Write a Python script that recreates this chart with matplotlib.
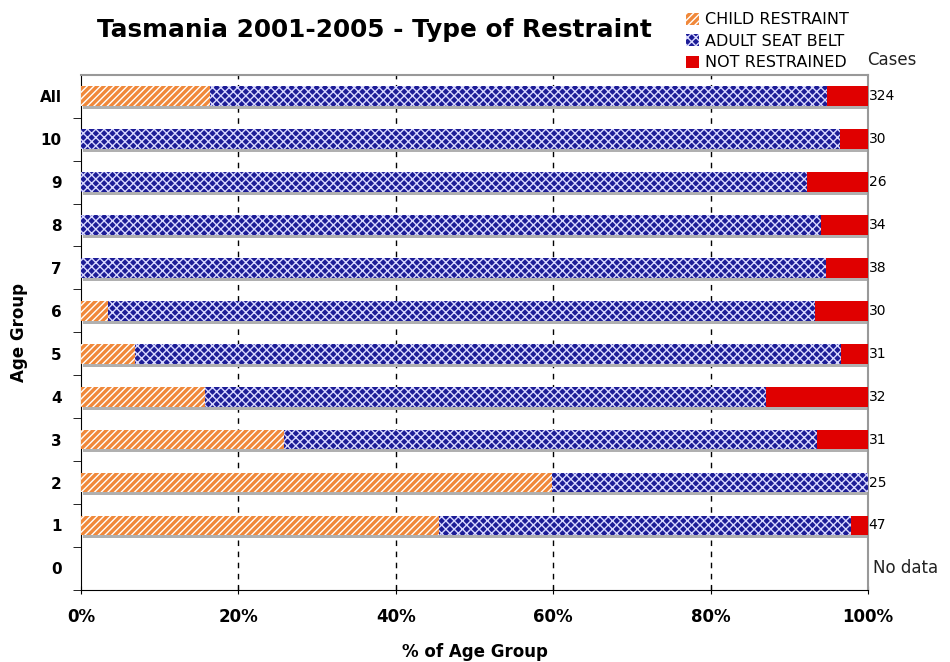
import matplotlib.pyplot as plt
from matplotlib.patches import Patch
import numpy as np

# data (percent of age group)
groups = ["0", "1", "2", "3", "4", "5", "6", "7", "8", "9", "10", "All"]
child = [0, 45.5, 59.8, 25.8, 15.8, 6.8, 3.4, 0, 0, 0, 0, 16.4]
adult = [0, 52.4, 40.2, 67.7, 71.2, 89.8, 89.8, 94.7, 94.0, 92.2, 96.5, 78.4]
notr = [0, 2.1, 0, 6.5, 13.0, 3.4, 6.8, 5.3, 6.0, 7.8, 3.5, 5.2]
cases = ["No data", "47", "25", "31", "32", "31", "30", "38", "34", "26", "30", "324"]

c_child = "#f0883a"
c_adult = "#1c1c96"
c_not = "#e00000"


def main():
    """draw the chart"""
    plt.rcParams["hatch.linewidth"] = 1.0
    fig = plt.figure(figsize=(9.5, 6.62), dpi=100)
    ax = fig.add_axes([0.0853, 0.109, 0.8284, 0.778])

    y = np.arange(len(groups))
    h = 0.46
    child_a = np.array(child)
    adult_a = np.array(adult)
    notr_a = np.array(notr)
    total = child_a + adult_a + notr_a

    # shadow
    ax.barh(y - 0.07, total, height=h, left=0.3, color="#b0b0b0", lw=0, zorder=2)
    ax.barh(y, child_a, height=h, color=c_child, edgecolor="white",
            hatch="/////", lw=0, zorder=3)
    ax.barh(y, adult_a, height=h, left=child_a, color=c_adult,
            edgecolor="#d8d8ff", hatch="xxxx", lw=0, zorder=3)
    ax.barh(y, notr_a, height=h, left=child_a + adult_a, color=c_not,
            lw=0, zorder=3)

    for i, c in enumerate(cases):
        if c == "No data":
            ax.text(100.6, y[i], c, va="center", ha="left", fontsize=12,
                    color="#222222")
        else:
            ax.text(100.1, y[i], c, va="center", ha="left", fontsize=10)

    ax.set_xlim(0, 100)
    ax.set_ylim(-0.5, 11.5)
    ax.set_xticks([0, 20, 40, 60, 80, 100])
    ax.set_xticklabels(["0%", "20%", "40%", "60%", "80%", "100%"],
                       fontsize=12, fontweight="bold")
    ax.set_yticks(y)
    ax.set_yticklabels(groups, fontsize=11, fontweight="bold")
    ax.tick_params(axis="y", length=0, pad=14)
    ax.set_yticks(np.arange(-0.5, 11.5, 1), minor=True)
    ax.tick_params(axis="y", which="minor", length=6, direction="out")
    ax.tick_params(axis="x", length=6, direction="inout", pad=10)
    for xv in [20, 40, 60, 80]:
        ax.axvline(xv, color="black", ls=(0, (4, 4)), lw=1, zorder=1)

    ax.spines["top"].set_color("#999999")
    ax.spines["right"].set_color("#999999")
    ax.spines["right"].set_linewidth(1.5)
    ax.spines["top"].set_linewidth(1.5)

    ax.set_xlabel("% of Age Group", fontsize=12, fontweight="bold", labelpad=12)
    ax.set_ylabel("Age Group", fontsize=12, fontweight="bold", labelpad=8)

    fig.text(0.102, 0.955, "Tasmania 2001-2005 - Type of Restraint",
             fontsize=17.8, fontweight="bold", va="center")
    fig.text(0.913, 0.909, "Cases", fontsize=12, color="#222222", va="center")

    handles = [
        Patch(facecolor=c_child, edgecolor="white", hatch="/////", lw=0,
              label="CHILD RESTRAINT"),
        Patch(facecolor=c_adult, edgecolor="#d8d8ff", hatch="xxxx", lw=0,
              label="ADULT SEAT BELT"),
        Patch(facecolor=c_not, lw=0, label="NOT RESTRAINED"),
    ]
    fig.legend(handles=handles, loc="upper left", bbox_to_anchor=(0.707, 1.003),
               frameon=False, fontsize=11.5, handlelength=0.8, handleheight=0.8,
               handletextpad=0.4, labelspacing=0.4)

    fig.savefig("out.png", dpi=100)


if __name__ == "__main__":
    main()
